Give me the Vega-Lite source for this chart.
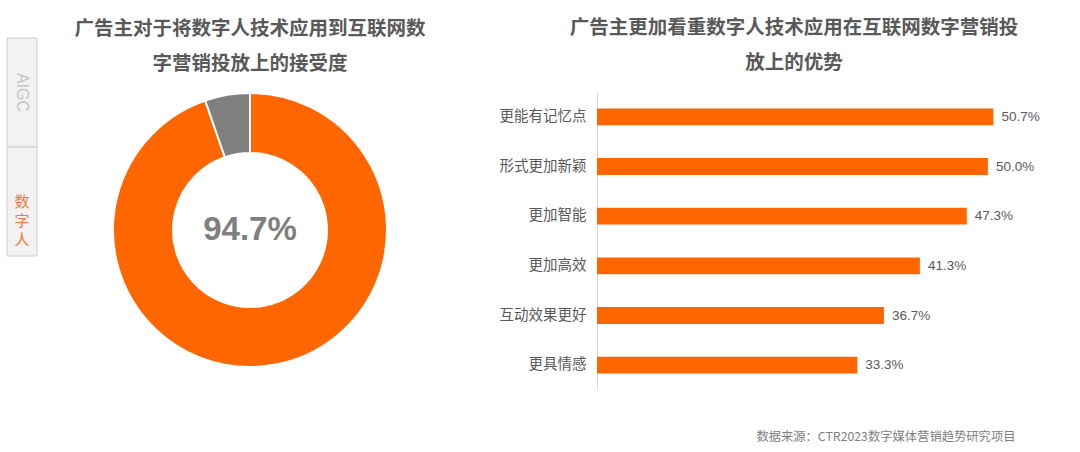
{
  "$schema": "https://vega.github.io/schema/vega-lite/v6.json",
  "background": "white",
  "padding": {"left": 6, "top": 17, "right": 5, "bottom": 5},
  "config": {
    "view": {"stroke": null},
    "font": "Noto Sans CJK SC",
    "title": {"fontSize": 19.5, "fontWeight": "bold", "color": "#595959", "lineHeight": 35, "offset": 19, "anchor": "middle", "frame": "group", "font": "Noto Sans CJK SC"}
  },
  "datasets": {
    "tabs": [
      {"tab": "AIGC", "label": "AIGC"},
      {"tab": "数字人", "label": ["数", "字", "人"]}
    ],
    "accept": [
      {"cat": "接受", "value": 0.947},
      {"cat": "其他", "value": 0.053}
    ],
    "advantages": [
      {"item": "更能有记忆点", "value": 0.507},
      {"item": "形式更加新颖", "value": 0.500},
      {"item": "更加智能", "value": 0.473},
      {"item": "更加高效", "value": 0.413},
      {"item": "互动效果更好", "value": 0.367},
      {"item": "更具情感", "value": 0.333}
    ]
  },
  "align": "none",
  "spacing": 49,
  "hconcat": [
    {
      "align": "none",
      "spacing": 12,
      "hconcat": [
        {
          "width": 30,
          "height": 164,
          "data": {"name": "tabs"},
          "encoding": {
            "y": {"field": "tab", "type": "nominal", "scale": {"domain": ["AIGC", "数字人"], "paddingInner": 0, "paddingOuter": 0, "range": [-54, 164]}, "axis": null}
          },
          "layer": [
            {"mark": {"type": "rect", "fill": "#f2f2f2", "stroke": "#cfcfcf", "strokeWidth": 1}},
            {
              "transform": [{"filter": "datum.tab === 'AIGC'"}],
              "mark": {"type": "text", "angle": 90, "fontSize": 16, "color": "#c4c4c4", "font": "Liberation Sans", "baseline": "middle", "align": "center"},
              "encoding": {"text": {"field": "label"}}
            },
            {
              "transform": [{"filter": "datum.tab === '数字人'"}],
              "mark": {"type": "text", "fontSize": 15, "lineHeight": 19, "color": "#ef7a35", "baseline": "middle", "align": "center"},
              "encoding": {"text": {"field": "label"}}
            }
          ]
        },
        {
          "width": 400,
          "height": 276,
          "title": {"text": ["广告主对于将数字人技术应用到互联网数", "字营销投放上的接受度"], "offset": 15},
          "data": {"name": "accept"},
          "layer": [
            {
              "mark": {"type": "arc", "innerRadius": 77, "outerRadius": 137, "stroke": "white", "strokeWidth": 2},
              "encoding": {
                "theta": {"field": "value", "type": "quantitative", "stack": true},
                "color": {"field": "cat", "type": "nominal", "scale": {"domain": ["接受", "其他"], "range": ["#FF6600", "#7F7F7F"]}, "legend": null},
                "order": {"field": "value", "sort": "descending"}
              }
            },
            {
              "transform": [{"filter": "datum.cat === '接受'"}],
              "mark": {"type": "text", "fontSize": 33, "fontWeight": "bold", "font": "Liberation Sans", "color": "#7f7f7f", "baseline": "middle", "align": "center"},
              "encoding": {"text": {"field": "value", "type": "quantitative", "format": ".1%"}}
            }
          ]
        }
      ]
    },
    {
      "width": 430,
      "height": 298,
      "title": {"text": ["广告主更加看重数字人技术应用在互联网数字营销投", "放上的优势"], "dx": -18},
      "data": {"name": "advantages"},
      "encoding": {
        "y": {
          "field": "item", "type": "nominal", "sort": null,
          "scale": {"paddingInner": 0.66, "paddingOuter": 0.33},
          "axis": {"title": null, "ticks": false, "domainColor": "#d9d9d9", "labelFontSize": 14.5, "labelColor": "#595959", "labelPadding": 11, "labelFont": "Noto Sans CJK SC"}
        },
        "x": {
          "field": "value", "type": "quantitative",
          "scale": {"domain": [0, 0.55]},
          "axis": {"labels": false, "ticks": false, "domain": false, "grid": false, "title": "数据来源：CTR2023数字媒体营销趋势研究项目", "titleFontSize": 12.3, "titleColor": "#7f7f7f", "titleFontWeight": "normal", "titleAlign": "right", "titleX": 418, "titleY": 46, "titleBaseline": "middle", "titleFont": "Noto Sans CJK SC"}
        }
      },
      "layer": [
        {"mark": {"type": "bar", "color": "#FF6600"}},
        {
          "mark": {"type": "text", "align": "left", "baseline": "middle", "dx": 8, "fontSize": 13.5, "color": "#595959", "font": "Liberation Sans"},
          "encoding": {"text": {"field": "value", "type": "quantitative", "format": ".1%"}}
        }
      ]
    }
  ]
}
